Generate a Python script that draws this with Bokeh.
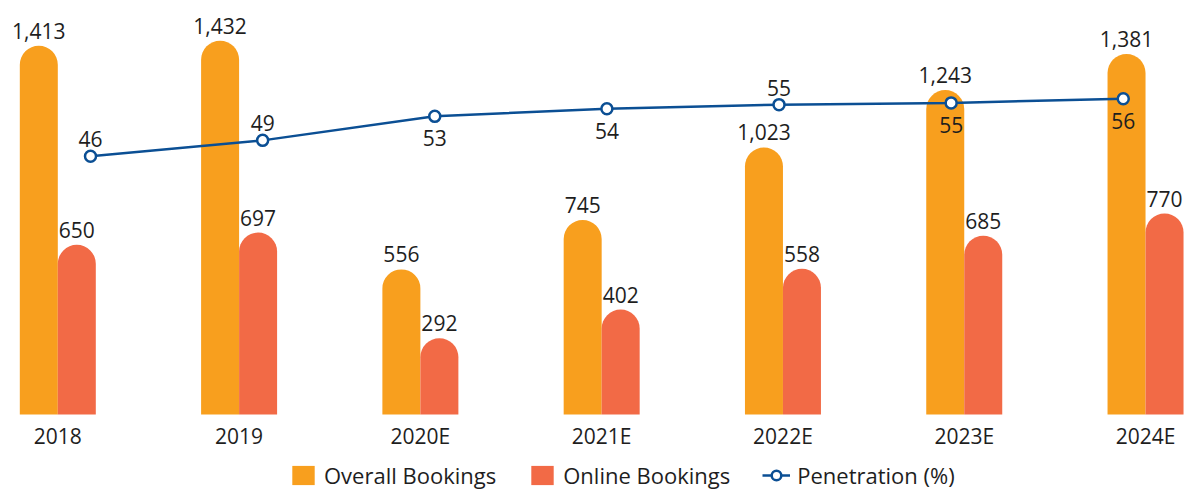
from bokeh.plotting import figure
from bokeh.models import Range1d, ColumnDataSource, Legend, LegendItem
from bokeh.transform import dodge
from bokeh.core.properties import value
from bokeh.embed import file_html
from bokeh.resources import INLINE

# ---- data ----
years = ["2018", "2019", "2020E", "2021E", "2022E", "2023E", "2024E"]
overall = [1413, 1432, 556, 745, 1023, 1243, 1381]
online = [650, 697, 292, 402, 558, 685, 770]
penetration = [46.0, 48.7, 52.8, 54.1, 54.8, 55.1, 55.8]
pen_labels = ["46", "49", "53", "54", "55", "55", "56"]
pen_label_side = ["above", "above", "below", "below", "above", "below", "below"]

ORANGE = "#F89F1E"
RED = "#F26A46"
BLUE = "#0B4F94"
TXT = "#1E1E1E"
FONT = "Open Sans"

idx = list(range(len(years)))
src = ColumnDataSource(dict(
    x=idx, year=years, zero=[0] * len(years),
    overall=overall, online=online,
    overall_lbl=[f"{v:,}" for v in overall],
    online_lbl=[f"{v:,}" for v in online],
    pen=penetration, pen_lbl=pen_labels,
    pen_off=[-17 if s == "above" else 22 for s in pen_label_side],
))

p = figure(width=1188, height=491, output_backend="svg", toolbar_location=None,
           x_range=Range1d(-0.3161, 6.237), y_range=Range1d(-295.0, 1586.2),
           x_axis_location=None, y_axis_location=None,
           min_border_left=0, min_border_right=0,
           min_border_top=0, min_border_bottom=0, outline_line_color=None)
p.grid.visible = False
p.extra_x_ranges = {"pen_x": Range1d(-0.523, 6.379)}
p.extra_y_ranges = {"pen_y": Range1d(-11.25, 72.58)}

BW = 0.2096
OFF = 0.1048
RAD = (19, 19, 0, 0)
ov = p.vbar(x=dodge("x", -OFF, range=p.x_range), top="overall", width=BW, source=src,
            fill_color=ORANGE, line_color=None, border_radius=RAD)
on = p.vbar(x=dodge("x", OFF, range=p.x_range), top="online", width=BW, source=src,
            fill_color=RED, line_color=None, border_radius=RAD)

common = dict(text_align="center", text_baseline="alphabetic", text_font=value(FONT),
              text_font_size="21px", text_color=TXT, source=src)
p.text(x=dodge("x", -OFF, range=p.x_range), y="overall", text="overall_lbl", y_offset=-15, **common)
p.text(x=dodge("x", OFF, range=p.x_range), y="online", text="online_lbl", y_offset=-15, **common)

# category labels under each group
p.text(x="x", y="zero", text="year", y_offset=21, **common)

ln = p.line(x="x", y="pen", source=src, x_range_name="pen_x", y_range_name="pen_y",
            line_color=BLUE, line_width=2.5)
mk = p.scatter(x="x", y="pen", source=src, x_range_name="pen_x", y_range_name="pen_y",
               marker="circle", size=11, fill_color="white", line_color=BLUE, line_width=2.5)
p.text(x="x", y="pen", text="pen_lbl", x_range_name="pen_x", y_range_name="pen_y",
       y_offset="pen_off", **common)

legend = Legend(items=[
    LegendItem(label="Overall Bookings", renderers=[ov]),
    LegendItem(label="Online Bookings", renderers=[on]),
    LegendItem(label="Penetration (%)", renderers=[ln, mk]),
], location=(289, 1), orientation="horizontal", border_line_color=None,
    background_fill_alpha=0, label_text_font=FONT, label_text_font_size="22px",
    label_text_color=TXT, glyph_width=28, glyph_height=24, label_standoff=7,
    spacing=32, padding=0, margin=0)
p.add_layout(legend)

open("out.html", "w").write(file_html(p, INLINE))
